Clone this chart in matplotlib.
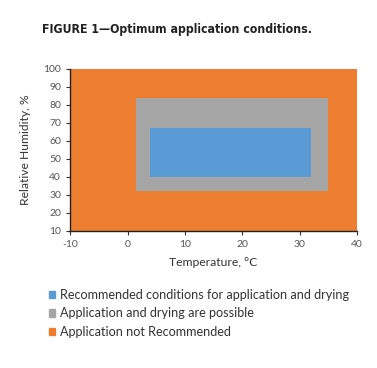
import matplotlib
matplotlib.use("Agg")
import matplotlib.pyplot as plt
from matplotlib.patches import Patch

# zones: (label, temp_min, temp_max, rh_min, rh_max)
labels = ["Application not Recommended",
          "Application and drying are possible",
          "Recommended conditions for application and drying"]
t_min = [-10, 1.5, 4]
t_max = [40, 35, 32]
rh_min = [10, 32, 40]
rh_max = [100, 84, 67]
colors = ["#ED7D31", "#A5A5A5", "#5B9BD5"]

x_ticks = [-10, 0, 10, 20, 30, 40]
y_ticks = [10, 20, 30, 40, 50, 60, 70, 80, 90, 100]

plt.rcParams['font.family'] = ['Lato', 'DejaVu Sans']
plt.rcParams['axes.unicode_minus'] = False

fig = plt.figure(figsize=(3.77, 3.68), dpi=100)
ax = fig.add_axes([0.186, 0.373, 0.761, 0.44])

for i in range(len(labels)):
    ax.bar(t_min[i], rh_max[i] - rh_min[i], width=t_max[i] - t_min[i],
           bottom=rh_min[i], align='edge', color=colors[i], linewidth=0)

ax.set_xlim(-10, 40)
ax.set_ylim(10, 100)
ax.set_xticks(x_ticks)
ax.set_yticks(y_ticks)
ax.tick_params(labelsize=7.5, colors="#333333", labelcolor="#555555", length=3, width=0.8)
for s in ["top", "right"]:
    ax.spines[s].set_visible(False)
for s in ["left", "bottom"]:
    ax.spines[s].set_color("#222222")
    ax.spines[s].set_linewidth(1.0)

ax.set_xlabel("Temperature, °C", fontsize=8.7, color="#333333", labelpad=6)
ax.set_ylabel("Relative Humidity, %", fontsize=8.7, color="#333333", labelpad=9)

fig.text(0.112, 0.911, "FIGURE 1—Optimum application conditions.",
         fontsize=8.8, fontweight="bold", color="#222222",
         family=['DejaVu Sans Condensed', 'DejaVu Sans'], fontstretch='condensed')

handles = [Patch(color=colors[i], label=labels[i]) for i in [2, 1, 0]]
fig.legend(handles=handles, loc="upper left", bbox_to_anchor=(0.117, 0.228),
           frameon=False, fontsize=9.1, handlelength=0.5, handleheight=0.5,
           handletextpad=0.35, labelspacing=0.5, borderaxespad=0,
           labelcolor="#333333")

fig.savefig("out.png", dpi=100)
